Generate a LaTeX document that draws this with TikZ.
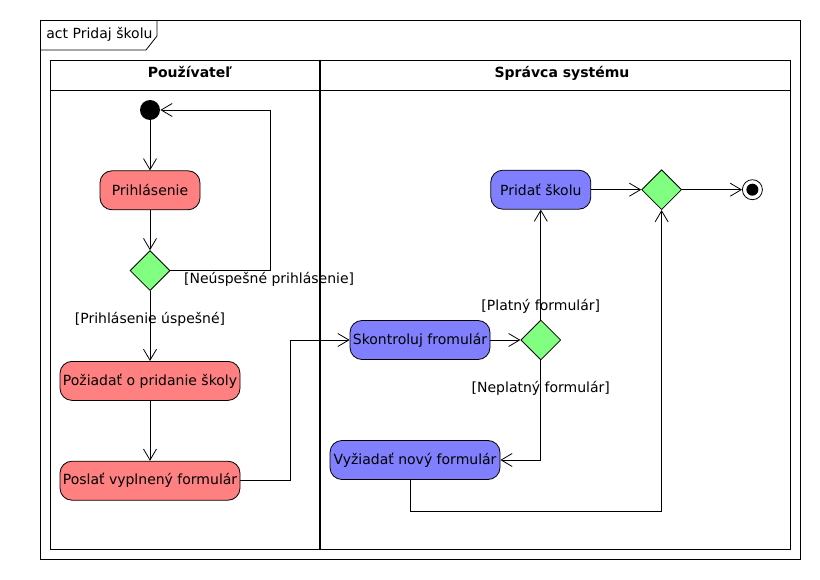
\documentclass[tikz,border=0pt]{standalone}
\usepackage{fontspec}
\setmainfont{DejaVu Sans}
\usetikzlibrary{positioning, shapes.geometric, arrows.meta}
\definecolor{userred}{HTML}{FF8080}
\definecolor{sysblue}{HTML}{8080FF}
\definecolor{gategreen}{HTML}{80FF80}

\begin{document}
\begin{tikzpicture}[x=1pt, y=1pt, line width=0.8pt, font=\fontsize{14}{16}\selectfont,
  flow/.style={-{Straight Barb[length=11pt, width=13pt]}},
  actnode/.style={draw, rounded corners=12pt, minimum height=39pt, inner sep=1pt},
  usernode/.style={actnode, fill=userred},
  sysnode/.style={actnode, fill=sysblue},
  gate/.style={diamond, draw, fill=gategreen, minimum width=40pt, minimum height=40pt, inner sep=0pt},
  initnode/.style={circle, fill=black, minimum size=20pt, inner sep=0pt},
  finalnode/.style={circle, draw, fill=white, minimum size=20pt, inner sep=0pt, path picture={\fill[black] (path picture bounding box.center) circle (6pt);}},
  lanehead/.style={anchor=base, font=\fontsize{14}{16}\selectfont\bfseries}]
            \useasboundingbox (0,0) rectangle (820,-580);
            % frame
            \draw (40,-20) rectangle (800,-559);
            \draw (40,-50) -- (146,-50) -- (157,-36) -- (157,-20);
            \node[anchor=base west, inner sep=0pt] (title) at (46,-39) {act Pridaj školu};
            % lanes
            \draw (50,-60) rectangle (790,-549);
            \draw (50,-90) -- (791,-90);
            \draw[line width=1.6pt] (320,-60) -- (320,-549);
            \node[lanehead] (lane1) at (190,-78) {Používateľ};
            \node[lanehead] (lane2) at (562,-78) {Správca systému};
            % user
            \node[initnode] (n1) at (150,-110) {};
            \node[usernode, minimum width=100pt, below=50pt of n1] (n2) {Prihlásenie};
            \draw[flow] (n1)--(n2);
            \node[gate, below=40pt of n2] (n3) {};
            \draw[flow] (n2)--(n3);
            \draw[flow] (n3.east) node[anchor=west, xshift=10pt, yshift=-9pt]{[Neúspešné prihlásenie]} -- ++(100,0) |- (n1);
            \node[usernode, minimum width=180pt, below=70pt of n3] (n4) {Požiadať o pridanie školy};
            \draw[flow] (n3)--(n4) node[pos=0.4]{[Prihlásenie úspešné]};
            \node[usernode, minimum width=180pt, below=60pt of n4] (n5) {Poslať vyplnený formulár};
            \draw[flow] (n4)--(n5);
            % system
            \node[sysnode, minimum width=140pt] (n6) at (420,-340) {Skontroluj fromulár};
            \draw[flow] (n5.east) -- ++(50,0) |- (n6.west);
            \node[gate, right=30pt of n6] (n7) {};
            \draw[flow] (n6)--(n7);
            \node[sysnode, minimum width=100pt, above=110pt of n7] (n8) {Pridať školu};
            \draw[flow] (n7)--(n8) node[pos=0.12]{[Platný formulár]};
            \node[sysnode, minimum width=170pt] (n11) at (415,-460) {Vyžiadať nový formulár};
            \draw[flow] (n7.south) |- (n11.east) node[pos=0.14]{[Neplatný formulár]};
            \node[gate, right=50pt of n8] (n9) {};
            \draw[flow] (n8)--(n9);
            \node[finalnode, right=60pt of n9] (n10) {};
            \draw[flow] (n9)--(n10);
            \draw[flow] ([xshift=-5pt]n11.south) -- ++(0,-31) -| (n9.south);
        \end{tikzpicture}
\end{document}
